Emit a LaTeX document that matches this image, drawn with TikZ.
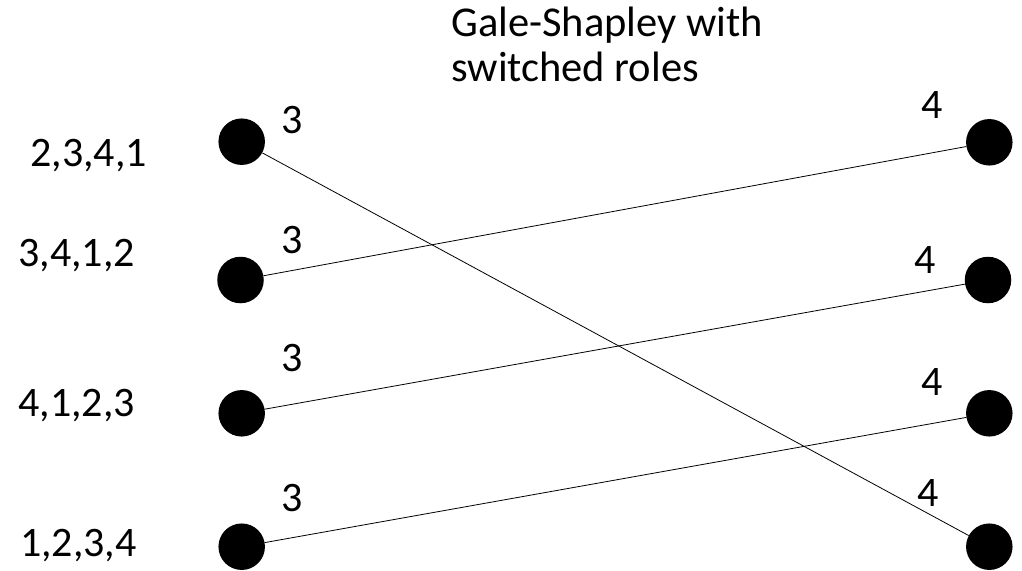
\documentclass[tikz,border=0pt]{standalone}
\usepackage{fontspec}
\setmainfont{Carlito}
\begin{document}
\begin{tikzpicture}[x=1pt,y=-1pt,
  vertex/.style={circle,fill=black,draw=none,minimum size=46.5pt,inner sep=0pt},
  lbl/.style={inner sep=0pt,anchor=base,font=\fontsize{42}{50}\selectfont},
  ttl/.style={inner sep=0pt,anchor=base west,font=\fontsize{42.5}{50}\selectfont},
  edge/.style={draw=black,line width=0.8pt}]
\useasboundingbox (0,0) rectangle (1022,570);

% title
\node[ttl] (t1) at (451,36.7) {Gale-Shapley with};
\node[ttl] (t2) at (451,81.7) {switched roles};

% left side
\node[vertex] (l1) at (241.7,141.7) {};
\node[vertex] (l2) at (240.5,280) {};
\node[vertex] (l3) at (241.7,413.3) {};
\node[vertex] (l4) at (241.7,546.7) {};

% right side
\node[vertex] (r1) at (989.3,142.3) {};
\node[vertex] (r2) at (988,280) {};
\node[vertex] (r3) at (989.3,413.3) {};
\node[vertex] (r4) at (989.3,546.7) {};

% preference lists
\node[lbl] (p1) at (88.5,166.7) {2,3,4,1};
\node[lbl] (p2) at (76.5,266.7) {3,4,1,2};
\node[lbl] (p3) at (76.5,416.7) {4,1,2,3};
\node[lbl] (p4) at (78.3,556.7) {1,2,3,4};

% node numbers
\node[lbl] (n1) at (292.5,133.3) {3};
\node[lbl] (n2) at (292.5,253.3) {3};
\node[lbl] (n3) at (292.5,371.7) {3};
\node[lbl] (n4) at (292.5,511.7) {3};
\node[lbl] (m1) at (931.7,118.3) {4};
\node[lbl] (m2) at (925,273.3) {4};
\node[lbl] (m3) at (931.7,395) {4};
\node[lbl] (m4) at (928,506.7) {4};

% matching
\draw[edge] (l1) -- (r4);
\draw[edge] (l2) -- (r1);
\draw[edge] (l3) -- (r2);
\draw[edge] (l4) -- (r3);
\end{tikzpicture}
\end{document}
